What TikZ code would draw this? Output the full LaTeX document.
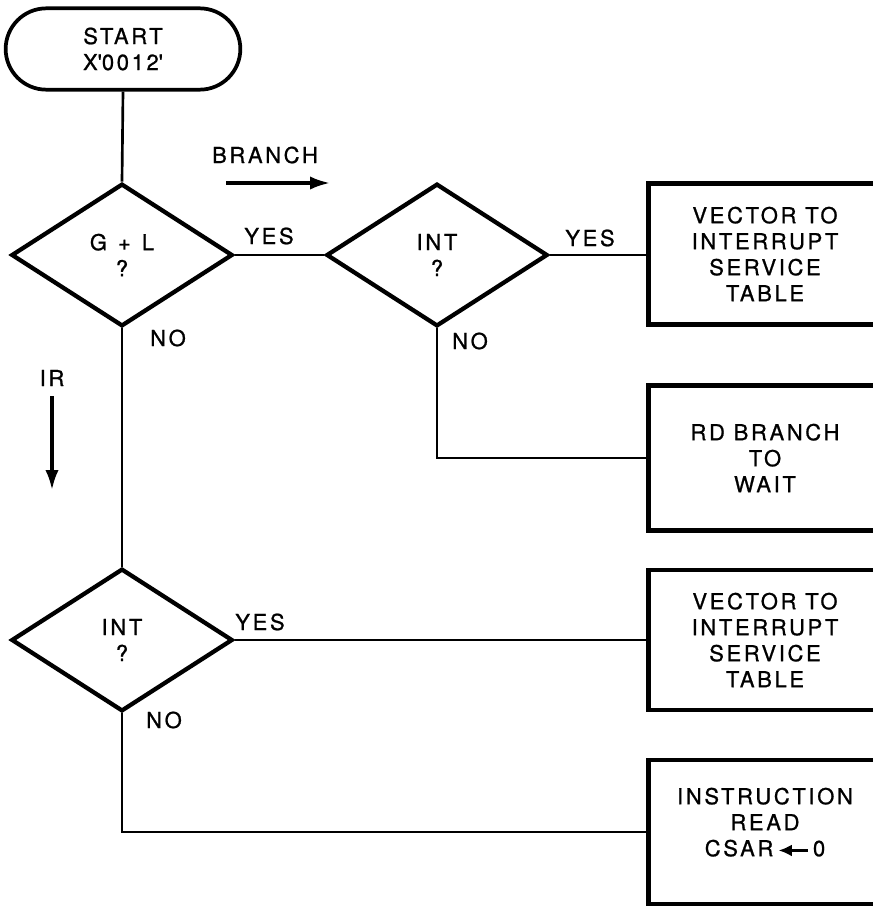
\documentclass[tikz,border=0pt]{standalone}
\usepackage{fontspec}
\setmainfont{TeX Gyre Heros}[LetterSpace=12, FakeBold=0.9]
\usetikzlibrary{shapes.geometric,shapes.misc,arrows.meta}

\begin{document}
\begin{tikzpicture}[x=0.75pt,y=-0.75pt,
  font=\fontsize{16.5}{19.5}\selectfont,
  term/.style={draw, rounded rectangle, line width=2.8pt, minimum width=176pt, minimum height=61pt, align=center, inner sep=0pt},
  decision/.style={draw, diamond, line width=3.2pt, minimum width=166pt, minimum height=107pt, align=center, inner sep=0pt},
  procbox/.style={draw, rectangle, line width=3.4pt, minimum width=175pt, align=center, inner sep=0pt},
  flow/.style={line width=2pt},
  dirarrow/.style={line width=2.4pt, -{Latex[length=15pt,width=10pt]}},
  lbl/.style={inner sep=0pt}]
  \useasboundingbox (0,0) rectangle (873,908);
  \clip (0,0) rectangle (873,908);

  % Start and first test
  \node[term] (start) at (123,49) {START\\X\textquotesingle 0012\textquotesingle};
  \node[decision] (gl) at (122,255) {G\enspace+\enspace L\\?};

  % Branch path
  \node[decision] (int1) at (437,255) {INT\\?};
  \node[procbox, minimum height=106pt] (vec1) at (765,254) {VECTOR TO\\INTERRUPT\\SERVICE\\TABLE};
  \node[procbox, minimum height=109pt] (rdb) at (765,458) {RD BRANCH\\TO\\WAIT};

  % IR path
  \node[decision] (int2) at (122,640) {INT\\?};
  \node[procbox, minimum height=105pt] (vec2) at (765,640) {VECTOR TO\\INTERRUPT\\SERVICE\\TABLE};
  \node[procbox, minimum height=108pt] (ird) at (765,832) {INSTRUCTION\\READ\\CSAR\,\tikz[baseline=-0.5ex]\draw[line width=2.2pt, -{Latex[length=10pt,width=9pt]}] (22pt,0) -- (0,0);\,0\\[-4.5pt]};

  % Connectors
  \draw[flow] (start.south) -- (gl.north);
  \draw[flow] (gl.east) -- (int1.west);
  \draw[flow] (int1.east) -- (int1.east -| vec1.west);
  \draw[flow] (int1.south) |- (rdb.west);
  \draw[flow] (gl.south) -- (int2.north);
  \draw[flow] (int2.east) -- (vec2.west);
  \draw[flow] (int2.south) |- (ird.west);

  % Labels
  \node[lbl] (yes1) at (269,236) {YES};
  \node[lbl] (no1) at (168,338) {NO};
  \node[lbl] (yes2) at (590,238) {YES};
  \node[lbl] (no2) at (470,341) {NO};
  \node[lbl] (yes3) at (260,622) {YES};
  \node[lbl] (no3) at (164,720) {NO};

  % Direction arrows
  \node[lbl] (branch) at (265,155) {BRANCH};
  \coordinate (br0) at (226,183);
  \coordinate (br1) at (330,183);
  \draw[dirarrow] (br0) -- (br1);
  \node[lbl] (ir) at (52,378) {IR};
  \coordinate (ir0) at (52,396);
  \coordinate (ir1) at (52,490);
  \draw[dirarrow] (ir0) -- (ir1);
\end{tikzpicture}
\end{document}
